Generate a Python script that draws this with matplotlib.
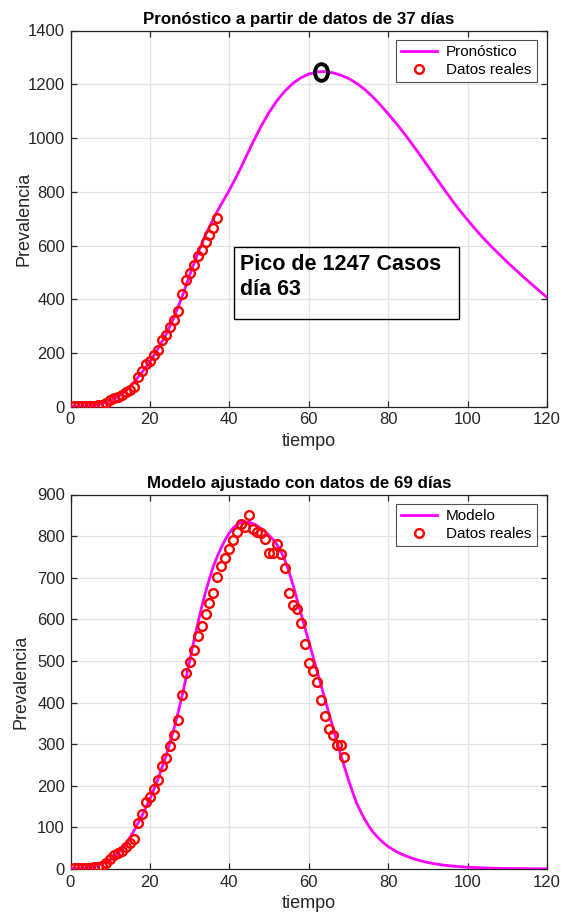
import matplotlib
matplotlib.use("Agg")
import matplotlib.pyplot as plt
from matplotlib.patches import Rectangle
from matplotlib.path import Path
from matplotlib.transforms import Affine2D

plt.rcParams['font.family'] = ['Liberation Sans', 'DejaVu Sans']

# ---------------- data ----------------
dias = list(range(1, 70))
casos = [2, 2, 2, 2, 3, 4, 6, 8, 14, 24, 34, 38, 44, 54, 62, 72,
         111, 132, 161, 172, 192, 213, 247, 267, 296, 322, 358, 418, 472, 498,
         527, 560, 584, 614, 640, 664, 701,
         727, 747, 768, 790, 810, 830, 822, 851, 816, 810,
         808, 793, 760, 760, 782, 756, 724, 663, 634, 626,
         590, 541, 496, 477, 449, 405, 367, 337, 322, 297,
         297, 269]
n_pron = 37

t_pron = [0, 2, 4, 6, 8, 10, 12, 14, 16, 18, 20, 22, 24, 26, 28, 30, 32, 34, 36,
          37, 38, 39, 40, 42, 44, 46, 48, 50, 52, 54, 56, 58, 60, 62, 63, 64, 66,
          68, 70, 72, 74, 76, 78, 80, 82, 84, 86, 88, 90, 92, 94, 96, 98, 100,
          102, 104, 106, 108, 110, 112, 114, 116, 118, 120]
y_pron = [1, 2, 3, 6, 12, 22, 38, 60, 92, 128, 168, 215, 268, 330, 405, 490, 568, 640, 700,
          728, 755, 780, 806, 862, 924, 986, 1044, 1095, 1139, 1175, 1203, 1224, 1238, 1245, 1247, 1247, 1243,
          1234, 1222, 1204, 1182, 1155, 1124, 1090, 1055, 1018, 978, 937, 895, 853, 811, 770, 731, 695,
          660, 627, 596, 567, 538, 511, 484, 458, 432, 407]

t_mod = [0, 2, 4, 6, 8, 10, 12, 14, 16, 18, 20, 22, 24, 26, 27, 28, 29, 30, 31, 32, 33, 34,
         35, 36, 37, 38, 39, 40, 41, 42, 43, 44, 45, 46, 47, 48, 49, 50, 51, 52, 53, 54, 55,
         56, 58, 60, 62, 64, 66, 67, 68, 69, 70, 71, 72, 73, 74, 75, 76, 77, 78, 79, 80,
         82, 84, 86, 88, 90, 92, 94, 96, 98, 100, 104, 108, 112, 120]
y_mod = [1, 2, 3, 6, 12, 22, 38, 60, 92, 128, 168, 215, 270, 335, 372, 412, 455, 500, 545, 588, 628, 665,
         698, 728, 752, 773, 792, 808, 820, 828, 833, 834, 833, 830, 825, 818, 811, 802, 792, 780, 763, 742, 715,
         684, 615, 547, 479, 411, 343, 309, 276, 245, 214, 186, 160, 139, 121, 105, 91, 80, 70, 61.5, 54,
         42, 33, 26, 20, 15.5, 12, 9.3, 7.2, 5.6, 4.3, 2.6, 1.6, 1, 0.4]

pico_dia = 63
pico_val = 1247

titulos = ["Pronóstico a partir de datos de 37 días", "Modelo ajustado con datos de 69 días"]
leyenda_linea = ["Pronóstico", "Modelo"]
leyenda_datos = "Datos reales"
xticks = [0, 20, 40, 60, 80, 100, 120]
yticks_top = [0, 200, 400, 600, 800, 1000, 1200, 1400]
yticks_bot = [0, 100, 200, 300, 400, 500, 600, 700, 800, 900]

# ---------------- figure ----------------
W, H = 568, 914
fig = plt.figure(figsize=(W / 100, H / 100), dpi=100)

dark = '#262626'
grid_c = '#e3e3e3'
mag = '#ff00ff'


def px_axes(left, top, right, bottom):
    return fig.add_axes([left / W, 1 - bottom / H, (right - left) / W, (bottom - top) / H])


def style(ax, yticks, ylab_x):
    ax.set_xlim(0, 120)
    ax.set_ylim(yticks[0], yticks[-1])
    ax.set_xticks(xticks)
    ax.set_yticks(yticks)
    ax.grid(True, color=grid_c, lw=0.9)
    ax.set_axisbelow(True)
    for s in ax.spines.values():
        s.set_color(dark)
        s.set_linewidth(0.9)
    ax.tick_params(direction='in', length=4.5, width=0.9, color=dark,
                   top=True, right=True, labelsize=12, labelcolor=dark, pad=4)
    ax.set_xlabel('tiempo', fontsize=13, color=dark, labelpad=4)
    ax.set_ylabel('Prevalencia', fontsize=13, color=dark)
    ax.yaxis.set_label_coords(ylab_x, 0.5)


ax1 = px_axes(70.5, 30.5, 547, 406.8)
ax2 = px_axes(70.5, 494.5, 547, 869)

leg_kw = dict(loc='upper right', fontsize=11, frameon=True, fancybox=False,
              edgecolor=dark, borderpad=0.35, handlelength=2.3, labelspacing=0.25,
              bbox_to_anchor=(0.978, 0.975), handletextpad=0.6, borderaxespad=0)

# top
ax1.plot(t_pron, y_pron, color=mag, lw=2, label=leyenda_linea[0], zorder=3)
ax1.plot(dias[:n_pron], casos[:n_pron], 'o', mfc='none', mec='red', ms=6.3, mew=1.7,
         label=leyenda_datos, zorder=4)
ell = Path.unit_circle().transformed(Affine2D().scale(0.78, 1.0))
ax1.plot([pico_dia], [pico_val], marker=ell, ms=12, mfc='none', mec='black', mew=2.8, zorder=5)
style(ax1, yticks_top, -0.08)
ax1.set_title(titulos[0], fontsize=12.2, fontweight='bold', color='black', pad=5, x=0.4795)
leg = ax1.legend(**leg_kw)
leg.get_frame().set_linewidth(0.8)

# text box
box = Rectangle((41.1, 326), 56.7, 268, fill=False, edgecolor='black', lw=1.0, zorder=6)
ax1.add_patch(box)
ax1.text(42.6, 570, 'Pico de 1247 Casos\ndía 63', fontsize=15.5, fontweight='bold',
         va='top', ha='left', linespacing=1.25, zorder=7)

# bottom
ax2.plot(t_mod, y_mod, color=mag, lw=2, label=leyenda_linea[1], zorder=3)
ax2.plot(dias, casos, 'o', mfc='none', mec='red', ms=6.3, mew=1.7,
         label=leyenda_datos, zorder=4)
style(ax2, yticks_bot, -0.085)
ax2.set_title(titulos[1], fontsize=12.2, fontweight='bold', color='black', pad=5, x=0.4795)
leg2 = ax2.legend(**leg_kw)
leg2.get_frame().set_linewidth(0.8)

fig.savefig('out.png', dpi=100)
